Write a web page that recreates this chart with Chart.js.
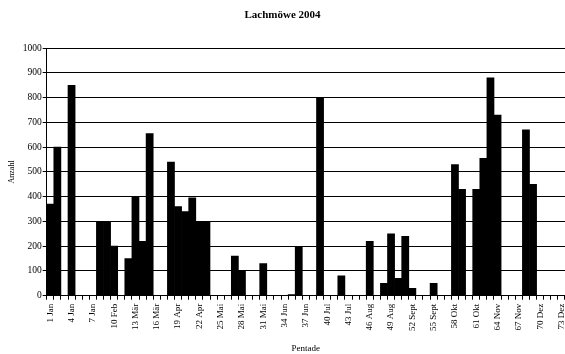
<!DOCTYPE html>
<html>
<head>
  <title>Lachmöwe 2004</title>
  <meta charset="UTF-8">
  <script src="https://cdn.jsdelivr.net/npm/chart.js"></script>
  <style>
    body {
      margin: 0;
      padding: 0;
      background-color: white;
    }
  </style>
</head>
<body>
  <canvas id="chart" width="565" height="354"></canvas>

  <script>
    // Counts per pentade (73 pentades)
    const counts = [
      370, 600, 0, 850, 0, 0, 0, 300, 300, 200,
      0, 150, 400, 220, 655, 0, 0, 540, 360, 340,
      395, 300, 300, 0, 0, 0, 160, 100, 0, 0,
      130, 0, 0, 0, 5, 195, 0, 0, 800, 0,
      0, 80, 0, 0, 0, 220, 0, 50, 250, 70,
      240, 30, 0, 0, 50, 0, 0, 530, 430, 0,
      430, 555, 880, 730, 0, 0, 0, 670, 450, 0,
      0, 0, 0
    ];

    // Every third pentade is labelled
    const tickLabels = [
      '1 Jan', '4 Jan', '7 Jan', '10 Feb', '13 Mär', '16 Mär', '19 Apr', '22 Apr',
      '25 Mai', '28 Mai', '31 Mai', '34 Jun', '37 Jun', '40 Jul', '43 Jul', '46 Aug',
      '49 Aug', '52 Sept', '55 Sept', '58 Okt', '61 Okt', '64 Nov', '67 Nov', '70 Dez', '73 Dez'
    ];

    const categories = counts.map((v, i) => (i % 3 === 0 ? tickLabels[i / 3] : ''));

    Chart.defaults.font.family = "'Liberation Serif', 'Times New Roman', serif";
    Chart.defaults.color = '#000';

    // no extra padding for overhanging tick labels
    const noPadding = function(scale) {
      scale.paddingLeft = 0;
      scale.paddingRight = 0;
      scale.paddingTop = 0;
      scale.paddingBottom = 0;
    };

    const ctx = document.getElementById('chart').getContext('2d');
    new Chart(ctx, {
      type: 'bar',
      data: {
        labels: categories,
        datasets: [{
          label: 'Anzahl',
          data: counts,
          backgroundColor: '#000',
          borderWidth: 0,
          barPercentage: 1.0,
          categoryPercentage: 1.0
        }]
      },
      options: {
        responsive: false,
        animation: false,
        layout: {
          autoPadding: false,
          padding: { left: 0, right: 0, top: 0, bottom: 0 }
        },
        plugins: {
          legend: { display: false },
          tooltip: { enabled: false },
          title: {
            display: true,
            text: 'Lachmöwe 2004',
            font: { size: 11, weight: 'bold' },
            color: '#000',
            padding: { top: 9, bottom: 26 }
          }
        },
        scales: {
          x: {
            afterFit: function(scale) {
              scale.height = 58.3;
              noPadding(scale);
            },
            grid: {
              display: true,
              drawOnChartArea: false,
              offset: true,
              color: '#000',
              tickLength: 4
            },
            border: { color: '#000', width: 1 },
            ticks: {
              autoSkip: false,
              maxRotation: 90,
              minRotation: 90,
              padding: 4,
              font: { size: 9 }
            },
            title: {
              display: true,
              text: 'Pentade',
              font: { size: 9 },
              padding: { top: 0, bottom: 0 }
            }
          },
          y: {
            min: 0,
            max: 1000,
            afterFit: function(scale) {
              scale.width = 46.7;
              noPadding(scale);
            },
            grid: {
              color: '#000',
              lineWidth: 1,
              tickLength: 4
            },
            border: { color: '#000', width: 1 },
            ticks: {
              stepSize: 100,
              padding: 1,
              font: { size: 9.5 },
              callback: function(value) {
                return String(value);
              }
            },
            title: {
              display: true,
              text: 'Anzahl',
              font: { size: 8 },
              padding: { top: 7, bottom: 0 }
            }
          }
        }
      }
    });
  </script>
</body>
</html>
